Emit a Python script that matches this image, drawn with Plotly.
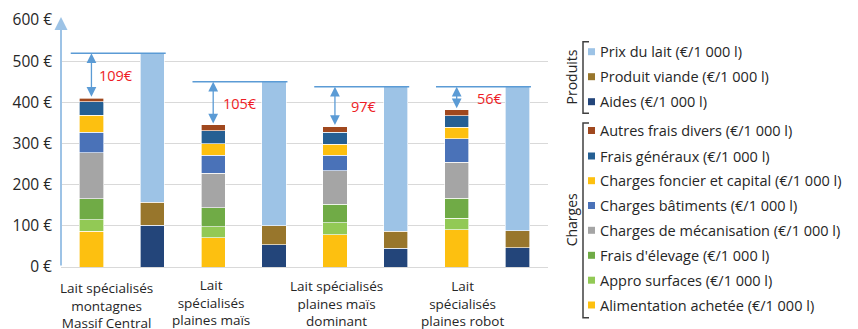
import plotly.graph_objects as go

# ---- data (€/1 000 l) ----
groups = [
    "Lait spécialisés<br>montagnes<br>Massif Central",
    "Lait<br>spécialisés<br>plaines maïs<br>herbe",
    "Lait spécialisés<br>plaines maïs<br>dominant",
    "Lait<br>spécialisés<br>plaines robot",
]

# charges, stacked bottom-up
alimentation = [87, 71, 78, 91]
appro_surfaces = [28, 27, 29, 28]
frais_elevage = [51, 46, 46, 48]
mecanisation = [111, 84, 81, 87]
batiments = [50, 43, 37, 58]
foncier_capital = [42, 29, 27, 27]
frais_generaux = [33, 31, 29, 29]
autres_frais = [8, 14, 14, 14]

# produits, stacked bottom-up
aides = [101, 54, 45, 47]
produit_viande = [56, 46, 42, 41]
prix_lait = [362, 350, 351, 350]

y_ticks = [0, 100, 200, 300, 400, 500, 600]

charges = [
    ("Alimentation achetée (€/1 000 l)", alimentation, "#fdc010"),
    ("Appro surfaces (€/1 000 l)", appro_surfaces, "#92c955"),
    ("Frais d'élevage (€/1 000 l)", frais_elevage, "#70ab46"),
    ("Charges de mécanisation (€/1 000 l)", mecanisation, "#a5a5a5"),
    ("Charges bâtiments (€/1 000 l)", batiments, "#4a72b8"),
    ("Charges foncier et capital (€/1 000 l)", foncier_capital, "#fdc010"),
    ("Frais généraux (€/1 000 l)", frais_generaux, "#255f93"),
    ("Autres frais divers (€/1 000 l)", autres_frais, "#a0481e"),
]
produits = [
    ("Aides (€/1 000 l)", aides, "#23457a"),
    ("Produit viande (€/1 000 l)", produit_viande, "#98762c"),
    ("Prix du lait (€/1 000 l)", prix_lait, "#9dc3e6"),
]

n = len(groups)
x_cost = [i - 0.25 for i in range(n)]
x_prod = [i + 0.25 for i in range(n)]
cost_tot = [sum(s[1][i] for s in charges) for i in range(n)]
prod_tot = [sum(s[1][i] for s in produits) for i in range(n)]
marge = [p - c for p, c in zip(prod_tot, cost_tot)]

FONT = "Open Sans"
TXT = "#262626"
W, H = 858, 329
L, R, T, B = 61, 310, 20, 62
PW, PH = W - L - R, H - T - B


def px(xpix):
    return (xpix - L) / PW


def py(ypix):
    return (H - B - ypix) / PH


fig = go.Figure()
for name, vals, col in charges:
    fig.add_bar(x=x_cost, y=vals, name=name, width=0.2, showlegend=False,
                marker=dict(color=col, line=dict(color="rgba(255,255,255,0.8)", width=0.8)))
for name, vals, col in produits:
    fig.add_bar(x=x_prod, y=vals, name=name, width=0.2, showlegend=False,
                marker=dict(color=col, line=dict(color="rgba(255,255,255,0.8)", width=0.8)))

shapes = []
annotations = []

# product level lines, margin arrows and labels
label_dx = [6, 8, 14, 18]
for i in range(n):
    shapes.append(dict(type="line", xref="x", yref="y", x0=i - 0.42, x1=i + 0.36,
                       y0=prod_tot[i], y1=prod_tot[i],
                       line=dict(color="#5b9bd5", width=1.5)))
    annotations.append(dict(x=x_cost[i], y=prod_tot[i], ax=x_cost[i], ay=cost_tot[i],
                            xref="x", yref="y", axref="x", ayref="y", text="",
                            showarrow=True, arrowhead=2, arrowside="end+start",
                            arrowsize=1.5, arrowwidth=1.3, arrowcolor="#5b9bd5",
                            standoff=0, startstandoff=0))
    annotations.append(dict(x=x_cost[i], y=(cost_tot[i] + prod_tot[i]) / 2,
                            xref="x", yref="y", xanchor="left", yanchor="middle",
                            xshift=label_dx[i], text=f"{marge[i]}€", showarrow=False,
                            font=dict(family=FONT, size=14.5, color="#ee1c25")))

# category labels under the groups
lab_dx = [15, -2, 2, 6]
lab_dy = [-10, -7, -8, -8]
for i in range(n):
    annotations.append(dict(x=x_cost[i], y=0, xref="x", yref="y", xanchor="center",
                            yanchor="top", yshift=lab_dy[i], xshift=lab_dx[i],
                            text=groups[i], showarrow=False, align="center",
                            font=dict(family=FONT, size=13.5, color=TXT)))

# y axis drawn as an arrow
annotations.append(dict(x=-0.5, y=607, ax=-0.5, ay=0, xref="x", yref="y", axref="x",
                        ayref="y", text="", showarrow=True, arrowhead=2, arrowsize=1.3,
                        arrowwidth=2, arrowcolor="#9dc3e6", standoff=0))

# legend with bracketed groups
legend_rows = [
    (produits[2], 51.7), (produits[1], 76.7), (produits[0], 101.7),
    (charges[7], 130.5), (charges[6], 156), (charges[5], 180.7), (charges[4], 205.5),
    (charges[3], 230.3), (charges[2], 255.3), (charges[1], 280.2), (charges[0], 305),
]
for (name, _, col), yy in legend_rows:
    shapes.append(dict(type="rect", xref="paper", yref="paper",
                       x0=px(588), x1=px(595), y0=py(yy + 3.5), y1=py(yy - 3.5),
                       fillcolor=col, line=dict(width=0)))
    annotations.append(dict(x=px(597.5), y=py(yy), xref="paper", yref="paper",
                            xanchor="left", yanchor="middle", text=name, showarrow=False,
                            font=dict(family=FONT, size=14.5, color=TXT)))

for label, top, bot in [("Produits", 41.7, 113.3), ("Charges", 123, 317.7)]:
    path = (f"M {px(589)},{py(top)} L {px(583)},{py(top)} "
            f"L {px(583)},{py(bot)} L {px(589)},{py(bot)}")
    shapes.append(dict(type="path", xref="paper", yref="paper", path=path,
                       line=dict(color="#404040", width=1.5)))
    annotations.append(dict(x=px(571), y=py((top + bot) / 2), xref="paper", yref="paper",
                            xanchor="center", yanchor="middle", text=label, textangle=-90,
                            showarrow=False, font=dict(family=FONT, size=14, color=TXT)))

fig.update_layout(
    width=W, height=H, barmode="stack",
    margin=dict(l=L, r=R, t=T, b=B, autoexpand=False),
    plot_bgcolor="white", paper_bgcolor="white",
    font=dict(family=FONT, color=TXT),
    shapes=shapes, annotations=annotations,
    xaxis=dict(range=[-0.5, n - 0.5], showticklabels=False, showgrid=False,
               zeroline=False, showline=False, fixedrange=True),
    yaxis=dict(range=[0, 600], tickvals=y_ticks,
               ticktext=[f"{v} €" for v in y_ticks], showgrid=True,
               gridcolor="#d9d9d9", gridwidth=1, zeroline=True, zerolinecolor="#d9d9d9",
               zerolinewidth=1, showline=False, ticks="", ticklabelstandoff=8,
               tickfont=dict(family=FONT, size=15.5, color=TXT), fixedrange=True),
)

fig.write_html("out.html")
